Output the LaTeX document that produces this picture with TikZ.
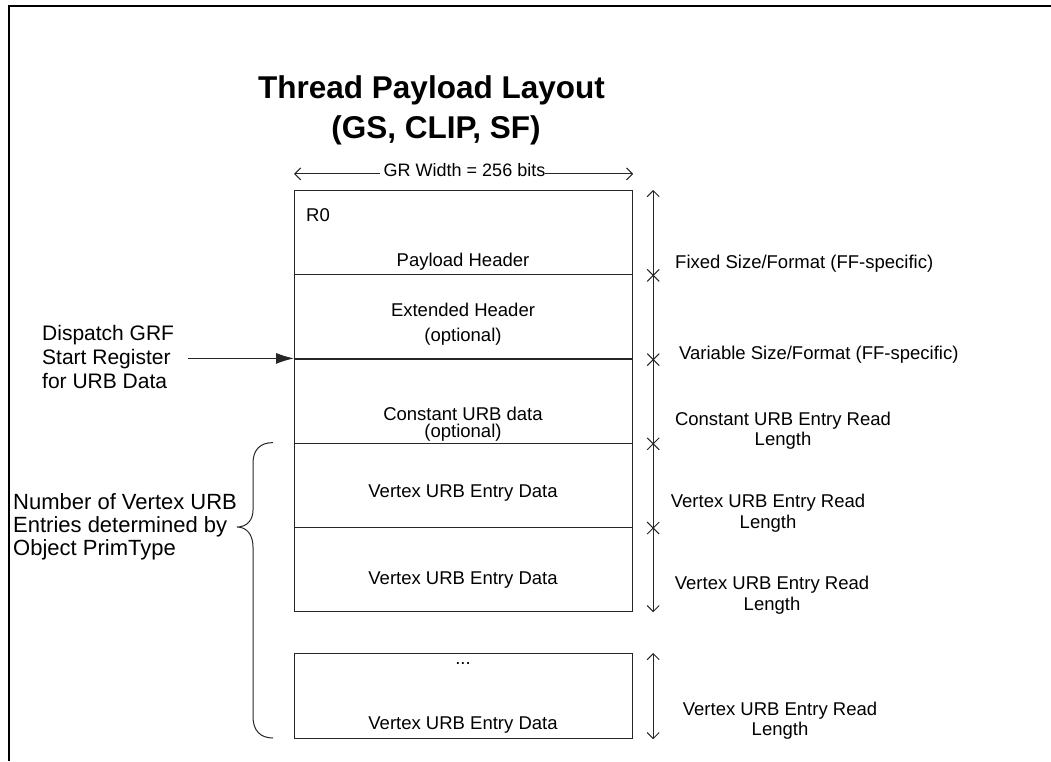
\documentclass[tikz,border=0pt]{standalone}
\usepackage{fontspec}
\setmainfont{Liberation Sans}
\usetikzlibrary{arrows.meta}
\tikzset{
  rowbox/.style={draw=black!85, line width=1.2pt, minimum width=338pt, minimum height=84.2pt, inner sep=0pt, anchor=north west},
  lbl/.style={font=\fontsize{18.5}{20}\selectfont, inner sep=0pt, anchor=base},
  lbll/.style={lbl, anchor=base west},
  sidetxt/.style={font=\fontsize{21}{24}\selectfont, inner sep=0pt, anchor=base west},
  numtxt/.style={font=\fontsize{22}{24}\selectfont, inner sep=0pt, anchor=base west},
  titletxt/.style={font=\fontsize{31.5}{37}\selectfont\bfseries, inner sep=0pt, anchor=base},
  barb/.tip={Straight Barb[length=6pt,width=12pt]},
  dimline/.style={draw=black!85, line width=1pt, barb-barb},
  xmark/.style={draw=black!85, line width=1pt},
}
\begin{document}
\begin{tikzpicture}[x=1pt,y=-1pt]
\useasboundingbox (0,0) rectangle (1051,761);
% frame
\draw[line width=2.5pt] (9,761) -- (9,6) -- (1051,6);

% title
\node[titletxt] (t1) at (431.5,98) {Thread Payload Layout};
\node[titletxt] (t2) at (436,138) {(GS, CLIP, SF)};

% rows
\node[rowbox] (r1) at (294,190) {};
\node[rowbox] (r2) at (294,274.2) {};
\node[rowbox] (r3) at (294,358.4) {};
\node[rowbox] (r4) at (294,442.6) {};
\node[rowbox] (r5) at (294,526.8) {};
\node[rowbox, minimum height=85pt] (r6) at (294,653) {};

% width marker
\node[lbl, font=\fontsize{18}{20}\selectfont] (grw) at (464.5,176.5) {GR Width = 256 bits};
\draw[draw=black!85, line width=1pt, -barb] ([xshift=-4pt]grw.mid west) -- (grw.mid west -| r1.north west);
\draw[draw=black!85, line width=1pt, -barb] (grw.mid east) -- (grw.mid east -| r1.north east);

% row labels
\node[lbll] (r0) at (306,221) {R0};
\node[lbl] (ph) at (463,266.5) {Payload Header};
\node[lbl] (eh1) at (463,316) {Extended Header};
\node[lbl] (eh2) at (463,341) {(optional)};
\node[lbl] (cu1) at (463,420.5) {Constant URB data};
\node[lbl] (cu2) at (463,437) {(optional)};
\node[lbl] (v1) at (463,497.6) {Vertex URB Entry Data};
\node[lbl] (v2) at (463,584.6) {Vertex URB Entry Data};
\node[lbl] (dots) at (463,664) {...};
\node[lbl] (v3) at (463,729.6) {Vertex URB Entry Data};

% dimension lines
\draw[dimline] ([xshift=20pt]r1.north east) -- ([xshift=20pt]r5.south east);
\draw[dimline] ([xshift=20pt]r6.north east) -- ([xshift=20pt]r6.south east);
\foreach \r in {r1,r2,r3,r4}{
  \draw[xmark] ([xshift=14pt,yshift=6pt]\r.south east) -- ([xshift=26pt,yshift=-6pt]\r.south east);
  \draw[xmark] ([xshift=14pt,yshift=-6pt]\r.south east) -- ([xshift=26pt,yshift=6pt]\r.south east);
}

% right labels
\node[lbll] (d1) at (675,268) {Fixed Size/Format (FF-specific)};
\node[lbll] (d2) at (679,359) {Variable Size/Format (FF-specific)};
\node[lbl] (d3a) at (783,425) {Constant URB Entry Read};
\node[lbl] (d3b) at (783,445) {Length};
\node[lbl] (d4a) at (768,507) {Vertex URB Entry Read};
\node[lbl] (d4b) at (768,528) {Length};
\node[lbl] (d5a) at (772,589) {Vertex URB Entry Read};
\node[lbl] (d5b) at (772,610) {Length};
\node[lbl] (d6a) at (780,715) {Vertex URB Entry Read};
\node[lbl] (d6b) at (780,735) {Length};

% dispatch label and arrow
\node[sidetxt] (ds1) at (42,340) {Dispatch GRF};
\node[sidetxt] (ds2) at (42,364) {Start Register};
\node[sidetxt] (ds3) at (42,388) {for URB Data};
\coordinate (dsa) at (188,358.4);
\draw[draw=black!85, line width=1pt, -{Latex[length=18pt,width=11pt]}] (dsa) -- (r3.north west);

% vertex count label and brace
\node[numtxt] (n1) at (13,509) {Number of Vertex URB};
\node[numtxt] (n2) at (13,532) {Entries determined by};
\node[numtxt] (n3) at (13,555) {Object PrimType};
\draw[draw=black!85, line width=1pt]
  (273,442.6) .. controls (260,442.6) and (253,450) .. (253,463)
  -- (253,510) .. controls (253,520) and (247,527) .. (237,527)
  .. controls (247,527) and (253,535) .. (253,547)
  -- (253,717) .. controls (253,730) and (260,738) .. (273,738);
\end{tikzpicture}
\end{document}
